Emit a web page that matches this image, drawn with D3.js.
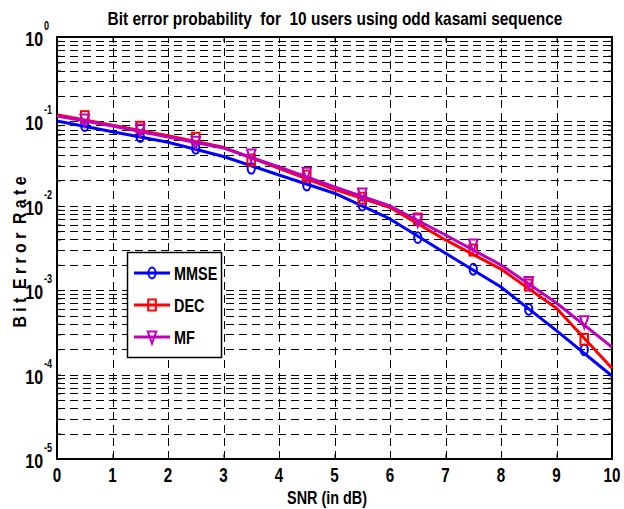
<!DOCTYPE html>
<html><head><meta charset="utf-8">
<script src="https://cdn.jsdelivr.net/npm/d3@7"></script>
<style>html,body{margin:0;padding:0;background:#fff}svg{display:block}text{white-space:pre}</style>
</head><body>
<script>
// ---- data ----
const titleText = "Bit error probability  for  10 users using odd kasami sequence";
const xLabelText = "SNR (in dB)";
const yLabelText = "B i t  E r r o r  R a t e";
const xTicks = [0,1,2,3,4,5,6,7,8,9,10];
const yTickExp = [0,-1,-2,-3,-4,-5];
const seriesNames = ["MMSE","DEC","MF"];
const xLine = [0,1,2,3,4,5,6,7,8,9,10];
const mmseLine = [0.101,0.0755,0.0565,0.0384,0.0232,0.0141,0.00698,0.00274,0.00109,0.000332,0.0000962];
const decLine  = [0.120,0.0902,0.0677,0.0493,0.0278,0.0157,0.00955,0.00394,0.00178,0.000610,0.000119];
const mfLine   = [0.116,0.0882,0.0653,0.0484,0.0288,0.0167,0.00995,0.00451,0.00199,0.000705,0.000212];
const xMarker = [0.5,1.5,2.5,3.5,4.5,5.5,6.5,7.5,8.5,9.5];
const mmseMarkers = [0.0889,0.0659,0.048,0.0278,0.0176,0.0102,0.00419,0.00177,0.000594,0.000196];
const decMarkers  = [0.1137,0.0851,0.0631,0.0349,0.0225,0.0123,0.00698,0.00299,0.00115,0.000262];
const mfMarkers   = [0.104,0.0791,0.0565,0.040,0.0243,0.0138,0.00679,0.00343,0.00123,0.000424];

// ---- layout ----
const W = 624, H = 509;
const L = 57, R = 612, T = 37, B = 459;
const FONT = "'Liberation Sans', Arial, sans-serif";
const SX = 0.76;

const svg = d3.select("body").append("svg").attr("width", W).attr("height", H);
svg.append("rect").attr("width", W).attr("height", H).attr("fill", "#fff");

const x = d3.scaleLinear().domain([0,10]).range([L,R]);
const y = d3.scaleLog().domain([1e-5,1]).range([B,T]);

// grid
const gridVals = [];
for (let e = -5; e < 0; e++) for (let m = 1; m <= 9; m++) gridVals.push(m*Math.pow(10,e));
gridVals.push(1);
const grid = svg.append("g").attr("stroke","#000").attr("stroke-width",1.2)
  .attr("stroke-dasharray","8,5").attr("shape-rendering","crispEdges");
grid.selectAll("line.h").data(gridVals).join("line").attr("class","h")
  .attr("x1",L).attr("x2",R).attr("y1",d=>Math.round(y(d))+0.5).attr("y2",d=>Math.round(y(d))+0.5);
grid.selectAll("line.v").data(xTicks.slice(1,-1)).join("line").attr("class","v")
  .attr("x1",d=>Math.round(x(d))+0.5).attr("x2",d=>Math.round(x(d))+0.5).attr("y1",B).attr("y2",T);

// axes ticks (inside)
const axB = svg.append("g").attr("transform",`translate(0,${B})`)
  .call(d3.axisBottom(x).tickValues(xTicks).tickSize(-5).tickFormat(""));
const axT = svg.append("g").attr("transform",`translate(0,${T})`)
  .call(d3.axisTop(x).tickValues(xTicks).tickSize(-5).tickFormat(""));
const axLf = svg.append("g").attr("transform",`translate(${L},0)`)
  .call(d3.axisLeft(y).tickValues(gridVals).tickSize(-4).tickFormat(""));
const axRt = svg.append("g").attr("transform",`translate(${R},0)`)
  .call(d3.axisRight(y).tickValues(gridVals).tickSize(-4).tickFormat(""));
[axB,axT,axLf,axRt].forEach(a=>{a.select(".domain").remove();a.selectAll("line").attr("stroke","#000").attr("stroke-width",1);});

// frame
svg.append("rect").attr("x",L).attr("y",T).attr("width",R-L).attr("height",B-T)
  .attr("fill","none").attr("stroke","#000").attr("stroke-width",2);

function sText(px, py, txt, size, anchor) {
  const g = svg.append("g").attr("transform",`translate(${px},${py}) scale(${SX},1)`);
  return g.append("text").attr("x",0).attr("y",0).attr("font-family",FONT)
    .attr("font-weight","bold").attr("font-size",size).attr("text-anchor",anchor||"start")
    .attr("fill","#000").text(txt);
}
// text fitted to a target width via a horizontal scale (no textLength)
function fitText(px, py, rot, txt, size, width) {
  const g = svg.append("g");
  const t = g.append("text").attr("x",0).attr("y",0).attr("font-family",FONT)
    .attr("font-weight","bold").attr("font-size",size).attr("text-anchor","middle")
    .attr("fill","#000").text(txt);
  const len = t.node().getComputedTextLength();
  const s = len > 0 ? width/len : 1;
  g.attr("transform",`translate(${px},${py}) rotate(${rot}) scale(${s},1)`);
  return t;
}

// x tick labels
xTicks.forEach(v => sText(x(v), 482, String(v), 20, "middle"));
// y tick labels
yTickExp.forEach(e => {
  const py = y(Math.pow(10,e));
  sText(43, py+9, "10", 21, "end");
  sText(44, py-7, String(e), 12, "start");
});

// lines
const colors = ["#0000ff","#ff0000","#bf00bf"];
const lines = [mmseLine, decLine, mfLine];
const markers = [mmseMarkers, decMarkers, mfMarkers];
const lineGen = d3.line().x((d,i)=>x(xLine[i])).y(d=>y(d));

function drawMarker(g, kind, cx, cy, col) {
  if (kind === 0) {
    g.append("ellipse").attr("cx",cx).attr("cy",cy).attr("rx",3.6).attr("ry",5.4)
      .attr("fill","none").attr("stroke",col).attr("stroke-width",2);
  } else if (kind === 1) {
    g.append("rect").attr("x",cx-3.8).attr("y",cy-5.5).attr("width",7.6).attr("height",11)
      .attr("fill","none").attr("stroke",col).attr("stroke-width",2);
  } else {
    g.append("path").attr("d",`M${cx-4.3},${cy-5.5} L${cx+4.3},${cy-5.5} L${cx},${cy+6.5} Z`)
      .attr("fill","none").attr("stroke",col).attr("stroke-width",2);
  }
}

const plot = svg.append("g");
lines.forEach((s,k) => {
  plot.append("path").datum(s).attr("d",lineGen).attr("fill","none")
    .attr("stroke",colors[k]).attr("stroke-width",3).attr("stroke-linejoin","round");
  markers[k].forEach((v,i) => drawMarker(plot, k, x(xMarker[i]), y(v), colors[k]));
});

// title
fitText(335, 25, 0, titleText, 18, 455);
// x label
fitText(327, 504, 0, xLabelText, 19, 80);
// y label
fitText(26, 252, -90, yLabelText, 19, 151);

// legend
const lg = svg.append("g");
lg.append("rect").attr("x",127.5).attr("y",252.5).attr("width",94).attr("height",105)
  .attr("fill","#fff").attr("stroke","#000").attr("stroke-width",1.5);
const legY = [273, 305, 337];
seriesNames.forEach((n,k) => {
  lg.append("line").attr("x1",134).attr("x2",170).attr("y1",legY[k]).attr("y2",legY[k])
    .attr("stroke",colors[k]).attr("stroke-width",3);
  drawMarker(lg, k, 152, legY[k], colors[k]);
  sText(174, legY[k]+7, n, 19, "start");
});
</script>
</body></html>
